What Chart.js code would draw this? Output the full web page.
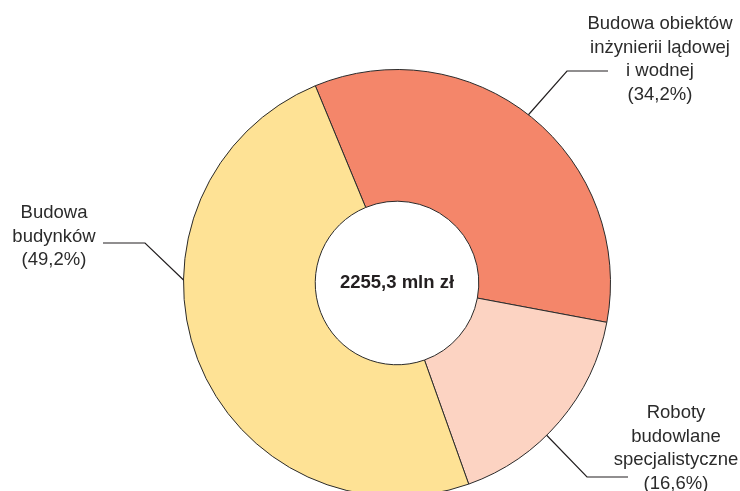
<!DOCTYPE html>
<html>
<head>
<meta charset="utf-8">
<script src="https://cdn.jsdelivr.net/npm/chart.js@4/dist/chart.umd.min.js"></script>
<style>
  html, body { margin: 0; padding: 0; background: #fff; overflow: hidden; }
  #wrap { width: 740px; height: 505px; }
</style>
</head>
<body>
<div id="wrap"><canvas id="myChart" width="740" height="505"></canvas></div>
<script>
// data
var categories = [
    ['Budowa obiektów', 'inżynierii lądowej', 'i wodnej'],
    ['Roboty', 'budowlane', 'specjalistyczne'],
    ['Budowa', 'budynków']
]
var shares = [34.2, 16.6, 49.2]
var totalText = '2255,3 mln zł'
var colors = ['#f4866a', '#fcd3c2', '#fee295']

// where each label sits and where its leader touches the ring (degrees from top, clockwise)
var labelX = [660, 676, 54]
var labelY = [24, 413, 213]
var leaderAngle = [38, 135.5, 270.8]
var elbow = [[567, 71, 608], [587, 477, 628], [145, 243, 103]]

var FONT = '"Liberation Sans", Arial, sans-serif'

var labelsPlugin = {
    id: 'sliceLabels',
    afterDraw: function (chart) {
        var ctx = chart.ctx
        var meta = chart.getDatasetMeta(0)
        var arc = meta.data[0]
        var cx = arc.x, cy = arc.y, r = arc.outerRadius
        ctx.save()
        // center text
        ctx.fillStyle = '#231f20'
        ctx.font = 'bold 18.5px ' + FONT
        ctx.textAlign = 'center'
        ctx.textBaseline = 'middle'
        ctx.fillText(totalText, cx, cy)

        ctx.font = '18.5px ' + FONT
        ctx.fillStyle = '#2b2b2b'
        for (var i = 0; i < shares.length; i++) {
            var lines = categories[i].slice()
            lines.push('(' + shares[i].toFixed(1).replace('.', ',') + '%)')
            for (var j = 0; j < lines.length; j++) {
                ctx.fillText(lines[j], labelX[i], labelY[i] + j * 23.5)
            }
            // leader line
            var a = leaderAngle[i] * Math.PI / 180
            var px = cx + r * Math.sin(a)
            var py = cy - r * Math.cos(a)
            ctx.strokeStyle = '#231f20'
            ctx.lineWidth = 1.2
            ctx.beginPath()
            ctx.moveTo(px, py)
            ctx.lineTo(elbow[i][0], elbow[i][1])
            ctx.lineTo(elbow[i][2], elbow[i][1])
            ctx.stroke()
        }
        ctx.restore()
    }
}

var ctx = document.getElementById('myChart').getContext('2d')
var myChart = new Chart(ctx, {
    type: 'doughnut',
    data: {
        labels: categories.map(function (c) { return c.join(' ') }),
        datasets: [{
            data: shares,
            backgroundColor: colors,
            borderColor: '#2a2a2a',
            borderWidth: 1
        }]
    },
    options: {
        responsive: false,
        animation: false,
        devicePixelRatio: 1,
        rotation: -22.5,
        cutout: '38.3%',
        layout: {
            padding: { top: 69, bottom: 8, left: 183, right: 129 }
        },
        plugins: {
            legend: { display: false },
            tooltip: { enabled: false }
        }
    },
    plugins: [labelsPlugin]
})
</script>
</body>
</html>
